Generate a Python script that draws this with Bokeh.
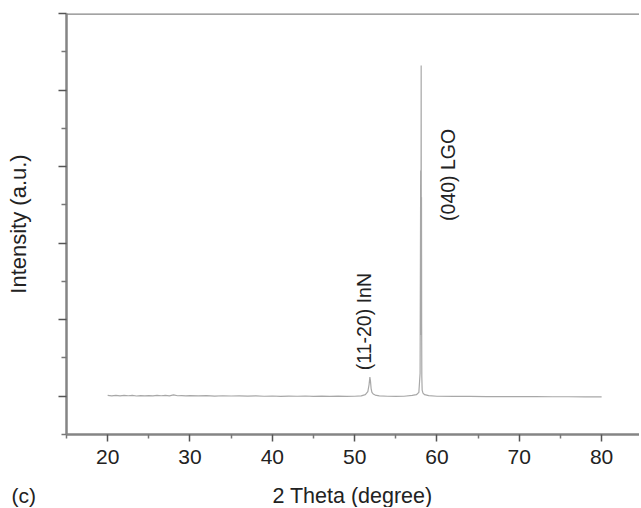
import numpy as np
from bokeh.plotting import figure
from bokeh.models import FixedTicker, Label, Span, Range1d
from bokeh.embed import file_html
from bokeh.resources import INLINE

# 2-theta (degree) and intensity (a.u.)
two_theta = [20, 20.5, 21, 21.5, 22, 22.5, 23, 23.5, 24, 24.5, 25, 25.5, 26, 26.5, 27, 27.5,
             28, 28.5, 29, 29.5, 30, 31, 32, 33, 34, 35, 36, 37, 38, 39, 40, 41, 42, 43, 44,
             45, 46, 47, 48, 49, 50, 50.8, 51.3, 51.6, 51.75, 51.85, 51.92, 52.0, 52.1, 52.25,
             52.5, 53, 54, 55, 56, 57, 57.5, 57.8, 57.95, 58.02, 58.05, 58.08, 58.1, 58.12,
             58.14, 58.16, 58.2, 58.3, 58.5, 59, 60, 62, 64, 66, 68, 70, 72, 74, 76, 78, 80]
intensity = [0.01, 0.005, 0.012, 0.004, 0.01, 0.006, 0.011, 0.003, 0.009, 0.005, 0.008, 0.004,
             0.01, 0.006, 0.012, 0.005, 0.018, 0.006, 0.009, 0.004, 0.008, 0.005, 0.007, 0.002,
             0.006, 0.003, 0.005, 0.001, 0.004, 0.0, 0.003, -0.001, 0.002, 0.0, 0.003, -0.002,
             0.002, -0.001, 0.001, -0.002, 0.0, 0.005, 0.02, 0.06, 0.15, 0.25, 0.2, 0.1, 0.05,
             0.03, 0.015, 0.005, 0.0, -0.002, 0.0, 0.01, 0.02, 0.05, 0.3, 2.95, 0.8, 4.32, 1.4,
             2.6, 0.9, 0.25, 0.08, 0.04, 0.02, 0.008, 0.0, -0.002, -0.003, -0.004, -0.005,
             -0.005, -0.006, -0.007, -0.007, -0.008, -0.008]

y_major = [0, 1, 2, 3, 4, 5]
y_minor = [-0.5, 0.5, 1.5, 2.5, 3.5, 4.5]
x_major = [20, 30, 40, 50, 60, 70, 80]
x_minor = [15, 25, 35, 45, 55, 65, 75, 85]

FONT = "Liberation Sans"
TXT = "#222222"

p = figure(width=639, height=507, output_backend="svg", toolbar_location=None,
           x_range=Range1d(15, 84.6), y_range=Range1d(-0.5, 5),
           min_border_left=66, min_border_right=0, min_border_top=13, min_border_bottom=73)
p.outline_line_color = None
p.grid.visible = False
p.background_fill_color = "white"

p.line(two_theta, intensity, line_color="#a8a8a8", line_width=1.2)

# x axis
xa = p.xaxis[0]
xa.ticker = FixedTicker(ticks=x_major, minor_ticks=x_minor)
xa.axis_line_color = "#858585"
xa.axis_line_width = 2.5
xa.major_tick_line_color = "#555555"
xa.major_tick_line_width = 1.5
xa.major_tick_out = 7
xa.major_tick_in = 0
xa.minor_tick_line_color = "#777777"
xa.minor_tick_line_width = 1.5
xa.minor_tick_out = 4
xa.minor_tick_in = 0
xa.major_label_text_font = FONT
xa.major_label_text_font_size = "21px"
xa.major_label_text_color = TXT
xa.major_label_standoff = 8

# y axis
ya = p.yaxis[0]
ya.ticker = FixedTicker(ticks=y_major, minor_ticks=y_minor)
ya.axis_line_color = "#858585"
ya.axis_line_width = 2.5
ya.major_tick_line_color = "#555555"
ya.major_tick_line_width = 1.5
ya.major_tick_out = 8
ya.major_tick_in = 0
ya.minor_tick_line_color = "#777777"
ya.minor_tick_line_width = 1.5
ya.minor_tick_out = 5
ya.minor_tick_in = 0
ya.major_label_overrides = {t: "" for t in y_major}
ya.major_label_text_font_size = "1px"
ya.major_label_standoff = 0

# top frame line
p.add_layout(Span(location=5, dimension="width", line_color="#858585", line_width=2.5))

# peak annotations
p.add_layout(Label(x=51.1, y=0.34, text="(11-20) InN", angle=np.pi / 2,
                   text_align="left", text_baseline="middle",
                   text_font=FONT, text_font_size="19.5px", text_color=TXT))
p.add_layout(Label(x=61.3, y=2.29, text="(040) LGO", angle=np.pi / 2,
                   text_align="left", text_baseline="middle",
                   text_font=FONT, text_font_size="19.5px", text_color=TXT))

# axis titles and panel tag, placed in the side panels
p.add_layout(Label(x=286, y=-5, x_units="screen", y_units="screen",
                   text="2 Theta (degree)", text_align="center", text_baseline="alphabetic",
                   text_font=FONT, text_font_size="21.5px", text_color=TXT), "below")
p.add_layout(Label(x=-15, y=210.5, x_units="screen", y_units="screen",
                   text="Intensity (a.u.)", angle=np.pi / 2,
                   text_align="center", text_baseline="middle",
                   text_font=FONT, text_font_size="22px", text_color=TXT), "left")
p.add_layout(Label(x=2, y=-61, x_units="screen", y_units="screen", text="(c)",
                   text_align="left", text_baseline="alphabetic",
                   text_font=FONT, text_font_size="21px", text_color=TXT), "left")

open("out.html", "w").write(file_html(p, INLINE))
